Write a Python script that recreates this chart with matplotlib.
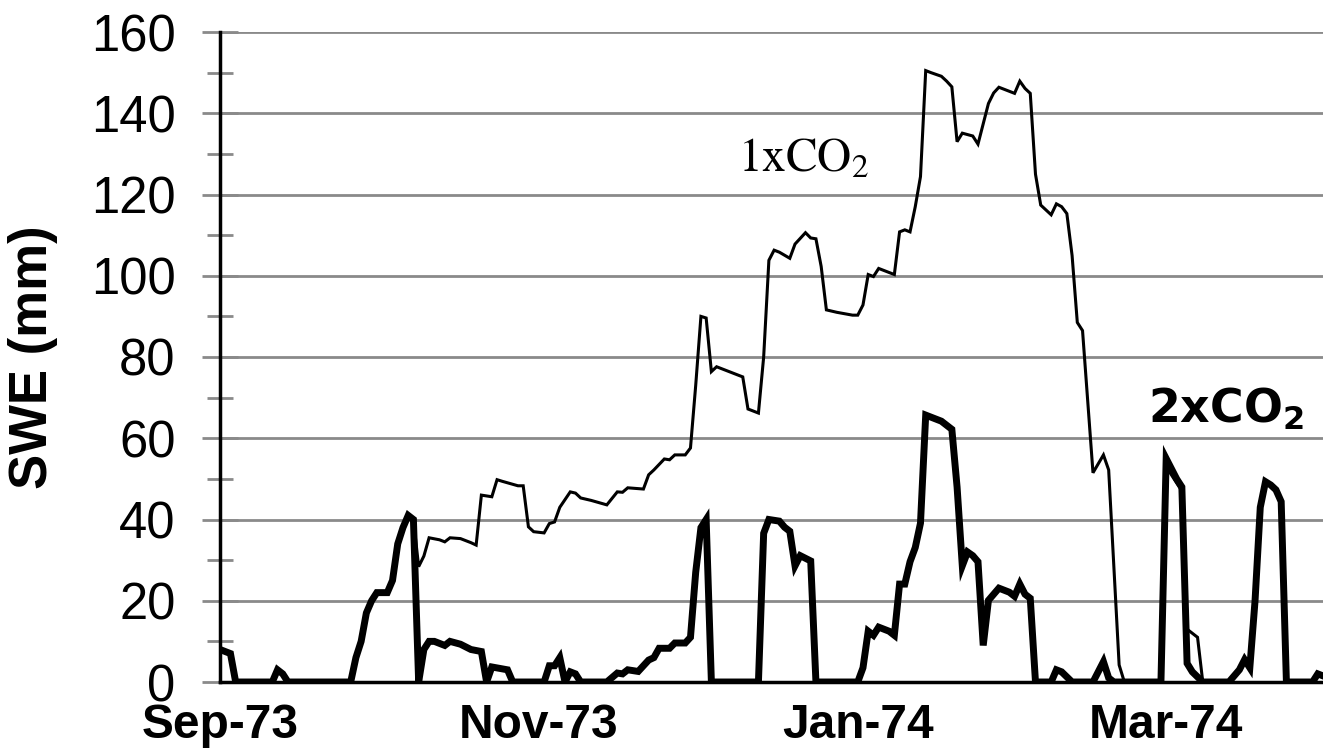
import matplotlib
matplotlib.use("Agg")
import matplotlib.pyplot as plt
import matplotlib.dates as mdates
from matplotlib.ticker import MultipleLocator
import pandas as pd

plt.rcParams['font.family'] = ['Liberation Sans', 'DejaVu Sans']

# days counted from 1 Sep 1973
start = pd.Timestamp('1973-09-01')
end = pd.Timestamp('1974-03-31')

days_2x = [0, 2, 3, 10, 11, 12, 13, 25, 26, 27, 28, 29, 30, 32, 33, 34, 35, 36, 37, 38,
           39, 40, 41, 43, 44, 46, 48, 50, 51, 52, 55, 56, 62, 63, 64, 65, 66, 67, 68, 69,
           74, 76, 77, 78, 80, 82, 83, 84, 86, 87, 89, 90, 91, 92, 93, 94, 103, 104, 105, 107,
           108, 109, 110, 111, 113, 114, 122, 123, 124, 125, 126, 128, 129, 130, 131, 132, 133, 134, 135, 136,
           138, 140, 141, 142, 143, 144, 145, 146, 147, 148, 149, 151, 152, 153, 154, 155, 156, 159, 160, 161,
           163, 167, 169, 170, 171, 180, 181, 183, 184, 185, 186, 188, 193, 195, 196, 197, 198, 199, 200, 201,
           202, 203, 204, 209, 210, 211]
swe_2x = [8, 7, 0, 0, 3, 2, 0, 0, 6, 10, 17, 20, 22, 22, 25, 34, 38, 41, 40, 0,
          8, 10, 10, 9, 10, 9.3, 8, 7.5, 0, 3.7, 3, 0, 0, 4, 4, 6, 0, 2.5, 2, 0,
          0, 2.2, 2, 3, 2.6, 5.4, 6, 8.3, 8.3, 9.6, 9.6, 11, 27, 38, 40, 0, 0, 36.6, 40, 39.6,
          38.1, 37.1, 28.6, 31.1, 29.8, 0, 0, 3.5, 12.5, 11.5, 13.5, 12.5, 11.5, 24.1, 24.1, 29.6, 33.1, 39.1, 65.7, 65.2,
          64.2, 62.2, 48, 28.6, 32, 31.1, 29.6, 9, 20.1, 21.6, 23.1, 22.1, 21.1, 24.1, 21.6, 20.6, 0, 0, 3, 2.5,
          0, 0, 5, 1, 0, 0, 55, 50, 48, 4.6, 2.5, 0, 0, 3, 5.5, 3.5, 20, 43, 49.3, 48.5,
          47.3, 44.4, 0, 0, 2, 1.5]

days_1x = [0, 2, 3, 10, 11, 12, 13, 25, 26, 27, 28, 29, 30, 32, 33, 34, 35, 36, 37, 38,
           39, 40, 42, 43, 44, 46, 48, 49, 50, 52, 53, 54, 57, 58, 59, 60, 62, 63, 64, 65,
           67, 68, 69, 71, 74, 76, 77, 78, 81, 82, 83, 85, 86, 87, 89, 90, 91, 92, 93, 94,
           95, 100, 101, 103, 104, 105, 106, 107, 109, 110, 112, 113, 114, 115, 116, 118, 121, 122, 123, 124,
           125, 126, 127, 129, 130, 131, 132, 133, 134, 135, 136, 138, 139, 140, 141, 142, 144, 145, 146, 147,
           148, 149, 151, 152, 153, 154, 155, 156, 157, 159, 160, 161, 162, 163, 164, 165, 167, 169, 170, 172,
           173, 180, 181, 183, 184, 185, 187, 188, 193, 195, 196, 197, 198, 199, 200, 201, 202, 203, 204, 209,
           210, 211]
swe_1x = [8, 7, 0, 0, 3, 2, 0, 0, 6, 10, 17, 20, 22, 22, 25, 34, 38, 41, 40, 28.4,
          31, 35.5, 35, 34.5, 35.5, 35.3, 34.3, 33.7, 46, 45.6, 49.8, 49.4, 48.3, 48.3, 38.2, 37, 36.7, 39, 39.4, 43,
          46.8, 46.5, 45.3, 44.7, 43.6, 46.8, 46.7, 47.8, 47.5, 51, 52.2, 54.9, 54.7, 55.9, 55.9, 57.6, 73, 90, 89.6, 76.4,
          77.6, 75.1, 67.2, 66.2, 80, 103.8, 106.3, 105.8, 104.3, 107.8, 110.6, 109.3, 109.1, 102.3, 91.6, 91, 90.3, 90.3, 92.8, 100.3,
          99.8, 101.8, 101.3, 100.3, 110.8, 111.3, 110.8, 117, 124.4, 150.5, 150, 149.1, 147.9, 146.5, 133, 135.1, 134.4, 132.4, 137.4, 142.4,
          145, 146.4, 145.4, 144.9, 147.9, 146.1, 144.9, 125, 117.4, 115, 117.7, 117, 115.3, 105, 88.5, 86.5, 51.5, 55.9, 52.2, 4.2,
          0, 0, 53, 49, 47, 13, 11, 0, 0, 3, 5.5, 3.5, 20, 43, 49.3, 48.5, 47.3, 44.4, 0, 0,
          2, 1.5]

tick_dates = ['1973-09-01', '1973-11-01', '1974-01-01', '1974-03-01']
tick_labels = ['Sep-73', 'Nov-73', 'Jan-74', 'Mar-74']

dates_2x = start + pd.to_timedelta(days_2x, unit='D')
dates_1x = start + pd.to_timedelta(days_1x, unit='D')

fig = plt.figure(figsize=(13.23, 7.5), dpi=100)
ax = fig.add_axes([220 / 1323, 68 / 750, 1103 / 1323, 650 / 750])

ax.plot(dates_2x, swe_2x, color='black', lw=5, solid_joinstyle='miter', zorder=3)
ax.plot(dates_1x, swe_1x, color='black', lw=2.2, solid_joinstyle='miter', zorder=4)

ax.set_xlim(start, end)
ax.set_ylim(0, 160)

ax.set_xticks(pd.to_datetime(tick_dates))
ax.set_xticklabels(tick_labels, fontsize=34.5, fontweight='bold')
ax.tick_params(axis='x', length=0, pad=15)

ax.yaxis.set_major_locator(MultipleLocator(20))
ax.yaxis.set_minor_locator(MultipleLocator(10))
ax.tick_params(axis='y', which='major', direction='inout', length=26, width=2,
               color='#8a8a8a', pad=19, labelsize=36.5)
ax.tick_params(axis='y', which='minor', direction='inout', length=19, width=2,
               color='#8a8a8a')
ax.yaxis.grid(True, color='#8a8a8a', lw=2)
ax.set_axisbelow(True)

for side in ['top', 'right']:
    ax.spines[side].set_visible(False)
ax.spines['left'].set_linewidth(2.5)
ax.spines['bottom'].set_linewidth(2.5)
ax.spines['bottom'].set_zorder(5)

fig.text(33 / 1323, 1 - 357 / 750, 'SWE (mm)', rotation=90, ha='center', va='center',
         fontsize=38, fontweight='bold')

ax.text(mdates.date2num(start + pd.Timedelta(days=99)), 125.6, r'$\mathrm{1xCO_2}$',
        math_fontfamily='stix', fontsize=34, ha='left', va='baseline')
ax.text(mdates.date2num(start + pd.Timedelta(days=177.5)), 63.8, r'$\mathbf{2xCO_2}$',
        math_fontfamily='dejavusans', fontsize=33, ha='left', va='baseline')

fig.savefig('out.png', dpi=100)
